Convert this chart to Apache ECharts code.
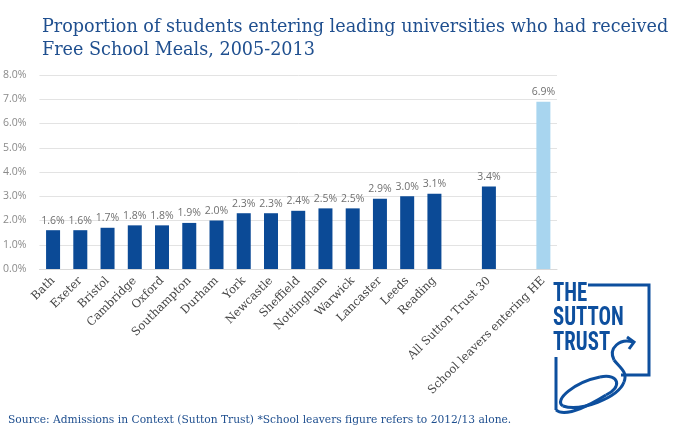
<!DOCTYPE html>
<html>
<head>
<meta charset="utf-8">
<script src="https://cdn.jsdelivr.net/npm/echarts@6/dist/echarts.min.js"></script>
<style>html,body{margin:0;padding:0;background:#fff;}#c{width:680px;height:437px;}</style>
</head>
<body>
<div id="c"></div>
<script>
const categories = ['Bath','Exeter','Bristol','Cambridge','Oxford','Southampton','Durham','York','Newcastle','Sheffield','Nottingham','Warwick','Lancaster','Leeds','Reading','','All Sutton Trust 30','','School leavers entering HE'];
const values = [1.6,1.6,1.7,1.8,1.8,1.9,2.0,2.3,2.3,2.4,2.5,2.5,2.9,3.0,3.1,null,3.4,null,6.9];
const highlight = ['School leavers entering HE'];
const yTicks = [0,1,2,3,4,5,6,7,8];
const titleText = 'Proportion of students entering leading universities who had received\nFree School Meals, 2005-2013';
const sourceText = 'Source: Admissions in Context (Sutton Trust) *School leavers figure refers to 2012/13 alone.';

const dark = '#0b4a96', light = '#a8d5ef', logo = '#0d4f9e';
const serif = '"DejaVu Serif", "Liberation Serif", serif';
const logoFont = 'bold 26px "Liberation Sans Narrow", "Roboto Condensed", "DejaVu Sans Condensed", sans-serif';

function bez(p){ return {type:'bezierCurve', shape:{x1:p[0],y1:p[1],cpx1:p[2],cpy1:p[3],cpx2:p[4],cpy2:p[5],x2:p[6],y2:p[7]}, style:{stroke:logo, lineWidth:3, fill:null}}; }
function logoText(t, y){ return {type:'text', x:553, y:y, scaleX:0.8, originX:0, originY:0, style:{text:t, font:logoFont, fill:logo}}; }

const chart = echarts.init(document.getElementById('c'), null, {renderer:'canvas'});
chart.setOption({
  animation:false,
  backgroundColor:'#fff',
  title:{
    text:titleText, left:37, top:11,
    textStyle:{fontFamily:serif, fontWeight:'normal', fontSize:17.6, color:'#1f4f8f', lineHeight:23}
  },
  grid:{left:34, right:123, top:75, bottom:168, containLabel:false},
  xAxis:{
    type:'category', data:categories,
    axisLine:{show:true, lineStyle:{color:'#d9d9d9', width:1}},
    axisTick:{show:false},
    axisLabel:{interval:0, rotate:45, margin:10, fontFamily:serif, fontSize:11.5, color:'#444'}
  },
  yAxis:{
    type:'value', min:yTicks[0], max:yTicks[yTicks.length-1], interval:1,
    axisLine:{show:false}, axisTick:{show:false},
    axisLabel:{margin:13, fontFamily:'"Open Sans", sans-serif', fontSize:10.5, color:'#8a8a8a',
      formatter:v=>v.toFixed(1)+'%'},
    splitLine:{lineStyle:{color:'#e3e3e3', width:1}}
  },
  series:[{
    type:'bar', barWidth:14,
    data:values.map((v,i)=>({value:v, itemStyle:{color: highlight.includes(categories[i]) ? light : dark}})),
    label:{show:true, position:'top', distance:4, fontFamily:'"Open Sans", sans-serif', fontSize:10.5, color:'#707070',
      formatter:p=>p.value==null?'':p.value.toFixed(1)+'%'}
  }],
  graphic:[
    {type:'text', x:8, y:415, style:{text:sourceText, font:'10.7px '+serif, fill:'#1f4f8f'}},
    logoText('THE', 281),
    logoText('SUTTON', 305),
    logoText('TRUST', 330),
    {type:'polyline', shape:{points:[[588,285],[649,285],[649,375],[621,375]]}, style:{stroke:logo, lineWidth:3, fill:null}},
    {type:'line', shape:{x1:556,y1:357,x2:556,y2:410}, style:{stroke:logo, lineWidth:3}},
    bez([633,342,620,338,608,348,614,360]),
    bez([614,360,620,368,628,372,624,382]),
    bez([624,382,618,398,580,412,563,406]),
    bez([563,406,553,400,575,382,600,377]),
    bez([600,377,620,373,622,388,606,395]),
    bez([606,395,590,405,565,418,556,410]),
    {type:'polyline', shape:{points:[[627,337],[634,342],[629,349]]}, style:{stroke:logo, lineWidth:3, fill:null}}
  ]
});
</script>
</body>
</html>
